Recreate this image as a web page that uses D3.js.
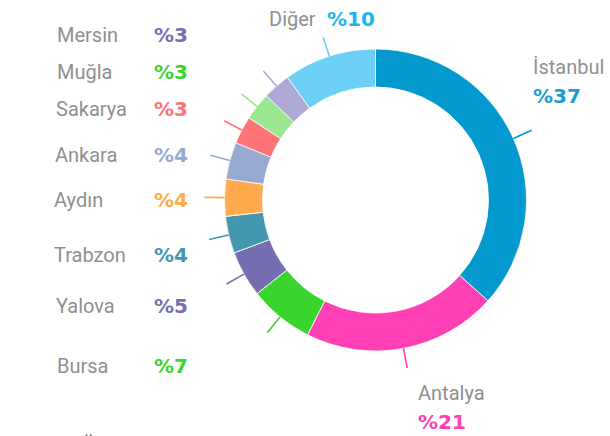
<!DOCTYPE html>
<html>
<head>
<meta charset="utf-8">
<script src="https://cdn.jsdelivr.net/npm/d3@7"></script>
<style>
  body { margin: 0; background: #fff; }
</style>
</head>
<body>
<div id="chart"></div>
<script>
// values as printed on the chart (clockwise from the top)
var cities = ["İstanbul", "Antalya", "Bursa", "Yalova", "Trabzon", "Aydın", "Ankara", "Sakarya", "Muğla", "Mersin", "Diğer"];
var shares = [37, 21, 7, 5, 4, 4, 4, 3, 3, 3, 10];
var sliceColors = ["#0399cf", "#ff40b4", "#3ad42f", "#756fb2", "#4398b0", "#ffaa4d", "#95a9d1", "#ff7377", "#9ae78f", "#ada9d4", "#6ccff6"];
var pctColors = ["#1e9ccf", "#ff40b4", "#3ad42f", "#756fb2", "#4398b0", "#ffaa4d", "#95a9d1", "#ff7377", "#3ad42f", "#756fb2", "#1ab8ec"];

var width = 610, height = 436;
var cx = 375.5, cy = 200;
var outerR = 151, innerR = 113;

var svg = d3.select("#chart")
  .append("svg")
  .attr("width", width)
  .attr("height", height);

var data = cities.map(function (c, i) {
  return { city: c, value: shares[i], color: sliceColors[i], pct: pctColors[i] };
});

var pie = d3.pie().sort(null).value((d) => d.value);
var arcs = pie(data);

var arc = d3.arc().innerRadius(innerR).outerRadius(outerR);

var g = svg.append("g")
  .attr("transform", "translate(" + cx + "," + cy + ")");

g.selectAll("path")
  .data(arcs)
  .enter()
  .append("path")
  .attr("d", arc)
  .style("fill", (d) => d.data.color)
  .style("stroke", "#fff")
  .style("stroke-width", 0.8);

// short leader ticks
function pt(a, r) {
  return [Math.sin(a) * r, -Math.cos(a) * r];
}
g.selectAll("line")
  .data(arcs)
  .enter()
  .append("line")
  .attr("x1", (d) => pt((d.startAngle + d.endAngle) / 2, outerR)[0])
  .attr("y1", (d) => pt((d.startAngle + d.endAngle) / 2, outerR)[1])
  .attr("x2", (d) => pt((d.startAngle + d.endAngle) / 2, outerR + 20)[0])
  .attr("y2", (d) => pt((d.startAngle + d.endAngle) / 2, outerR + 20)[1])
  .style("stroke", (d) => d.data.color)
  .style("stroke-width", 1.6);

// label layout: [name x, name y, pct x, pct y, pct anchor]
var labelPos = {
  "İstanbul": [533, 74, 533, 103, "start"],
  "Antalya": [418, 400, 418, 429, "start"],
  "Bursa": [57, 373, 188, 373, "end"],
  "Yalova": [56, 313, 188, 313, "end"],
  "Trabzon": [54, 262, 188, 262, "end"],
  "Aydın": [54, 207, 188, 207, "end"],
  "Ankara": [55, 162, 188, 162, "end"],
  "Sakarya": [56, 116, 188, 116, "end"],
  "Muğla": [57, 79, 188, 79, "end"],
  "Mersin": [57, 42, 188, 42, "end"],
  "Diğer": [269, 26, 327, 26, "start"]
};

var labels = svg.append("g");
labels.selectAll(".name")
  .data(data)
  .enter()
  .append("text")
  .attr("class", "name")
  .attr("x", (d) => labelPos[d.city][0])
  .attr("y", (d) => labelPos[d.city][1])
  .style("font-family", "Roboto, sans-serif")
  .style("font-size", "20px")
  .style("fill", "#8f8f8f")
  .text((d) => d.city);

labels.selectAll(".pct")
  .data(data)
  .enter()
  .append("text")
  .attr("class", "pct")
  .attr("x", (d) => labelPos[d.city][2])
  .attr("y", (d) => labelPos[d.city][3])
  .attr("text-anchor", (d) => labelPos[d.city][4])
  .style("font-family", "'DejaVu Sans', sans-serif")
  .style("font-size", "20px")
  .style("font-weight", "bold")
  .style("fill", (d) => d.pct)
  .text((d) => "%" + d.value);

// cut-off text at the bottom edge
svg.append("text")
  .attr("x", 82)
  .attr("y", 452)
  .style("font-family", "Roboto, sans-serif")
  .style("font-size", "20px")
  .style("fill", "#8f8f8f")
  .text("Ü");
</script>
</body>
</html>
